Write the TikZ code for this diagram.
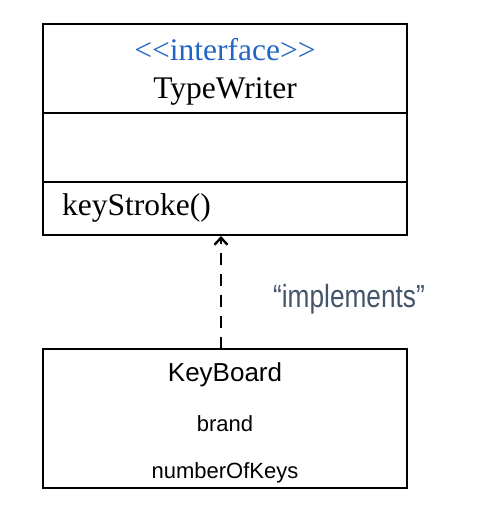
\documentclass[tikz,border=0pt]{standalone}
\usepackage{fontspec}
\setmainfont{Liberation Serif}
\setsansfont{Liberation Sans}
\usetikzlibrary{arrows.meta,positioning}
\definecolor{stereoblue}{HTML}{2166C6}
\definecolor{notegray}{HTML}{44546A}

\begin{document}
\begin{tikzpicture}[x=1pt,y=-1pt,
  compartment/.style={draw,line width=1.3pt,minimum width=364pt,inner sep=0pt,outer sep=0pt},
  serif/.style={font=\fontsize{31.5}{36}\selectfont\rmfamily,inner sep=0pt,anchor=base},
  sans/.style={font=\fontsize{22}{26}\selectfont\sffamily,inner sep=0pt,anchor=base},
  realize/.style={line width=2.6pt,dash pattern=on 12pt off 9pt,-{Straight Barb[length=7pt,width=13pt,line width=2.4pt]}}]
  \useasboundingbox (0,0) rectangle (480,531);

  % interface TypeWriter
  \node[compartment,minimum height=89pt] (twname) at (225,68.5) {};
  \node[compartment,minimum height=69pt] (twattr) at (225,147.5) {};
  \node[compartment,minimum height=53pt] (twops) at (225,208.5) {};
  \draw[line width=2pt] (twname.south west) -- (twname.south east);
  \node[serif,text=stereoblue] (stereo) at (225,60) {<{}<interface>{}>};
  \node[serif] (twtitle) at (225,98) {TypeWriter};
  \node[serif,anchor=base west] (keystroke) at (62,215) {keyStroke()};

  % class KeyBoard
  \node[compartment,minimum height=139pt] (kb) at (225,418.5) {};
  \node[sans,font=\fontsize{26}{30}\selectfont\sffamily] (kbtitle) at (225,381) {KeyBoard};
  \node[sans] (brand) at (225,431) {brand};
  \node[sans] (numkeys) at (225,478) {numberOfKeys};

  \draw[realize] ([xshift=-4pt]kb.north) -- ([xshift=-4pt,yshift=-1pt]twops.south);
  \node[sans,font=\fontsize{32}{36}\selectfont\sffamily,text=notegray] (impl) at (349,307) {\scalebox{0.82}[1]{“implements”}};
\end{tikzpicture}
\end{document}
